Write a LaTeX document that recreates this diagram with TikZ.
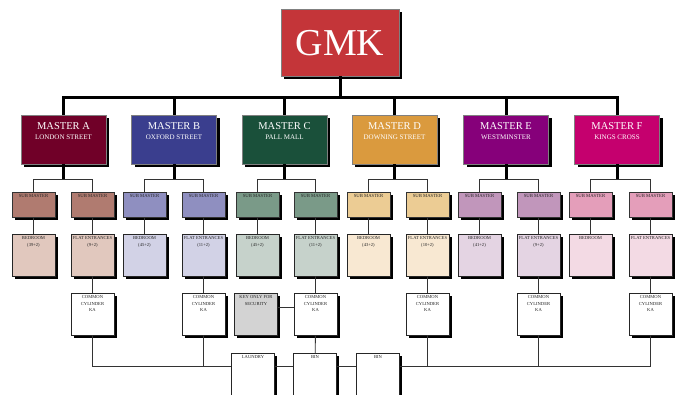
\documentclass[tikz,border=0pt]{standalone}
\usepackage{fontspec}
\setmainfont{Liberation Serif}
\usetikzlibrary{shadows}

\definecolor{gmkred}{RGB}{196,53,57}
\definecolor{mastA}{RGB}{112,0,40}
\definecolor{mastB}{RGB}{58,62,142}
\definecolor{mastC}{RGB}{26,80,58}
\definecolor{mastD}{RGB}{218,154,62}
\definecolor{mastE}{RGB}{134,0,122}
\definecolor{mastF}{RGB}{197,0,110}
\definecolor{subA}{RGB}{176,123,112}
\definecolor{subB}{RGB}{143,143,192}
\definecolor{subC}{RGB}{122,154,136}
\definecolor{subD}{RGB}{236,204,148}
\definecolor{subE}{RGB}{193,150,187}
\definecolor{subF}{RGB}{228,158,186}
\definecolor{bedA}{RGB}{225,200,190}
\definecolor{bedB}{RGB}{210,210,230}
\definecolor{bedC}{RGB}{198,210,203}
\definecolor{bedD}{RGB}{248,232,210}
\definecolor{bedE}{RGB}{228,212,227}
\definecolor{bedF}{RGB}{243,218,228}
\definecolor{keygray}{RGB}{211,211,211}

\newcommand{\boxtxt}[3]{\parbox[t][#2][t]{#1}{\centering #3}}

\tikzset{
  shadowed/.style={drop shadow={shadow xshift=3pt,shadow yshift=-3pt,fill=black,opacity=1}},
  smallshadow/.style={drop shadow={shadow xshift=2.5pt,shadow yshift=-2.5pt,fill=black,opacity=1}},
  master/.style={shadowed, draw=black!50, anchor=north, inner xsep=0pt, inner ysep=7.5pt, text=white, font=\fontsize{10.5}{9.5}\selectfont},
  submaster/.style={smallshadow, draw=black!80, anchor=north, inner xsep=0pt, inner ysep=2.3pt, text=black!85, font=\fontsize{4.7}{6}\selectfont},
  room/.style={smallshadow, draw=black!85, anchor=north, inner xsep=0pt, inner ysep=2.5pt, text=black!85, font=\fontsize{4.6}{6.4}\selectfont},
  trunk/.style={line width=3pt},
  link/.style={line width=0.9pt, black!80},
}

\begin{document}
\begin{tikzpicture}[x=1pt,y=-1pt]
\clip (0,0) rectangle (678,394);

% top box
\node[shadowed, draw=black!50, fill=gmkred, text=white, anchor=north, minimum width=118pt, minimum height=67pt, font=\fontsize{38}{40}\selectfont] (gmk) at (340,9) {GMK};

% masters
\node[master, fill=mastA] (mA) at (63.5,115) {\boxtxt{85pt}{34pt}{MASTER A\\{\fontsize{7}{8}\selectfont LONDON STREET}}};
\node[master, fill=mastB] (mB) at (174,115) {\boxtxt{85pt}{34pt}{MASTER B\\{\fontsize{7}{8}\selectfont OXFORD STREET}}};
\node[master, fill=mastC] (mC) at (284.5,115) {\boxtxt{85pt}{34pt}{MASTER C\\{\fontsize{7}{8}\selectfont PALL MALL}}};
\node[master, fill=mastD] (mD) at (394.5,115) {\boxtxt{85pt}{34pt}{MASTER D\\{\fontsize{7}{8}\selectfont DOWNING STREET}}};
\node[master, fill=mastE] (mE) at (506,115) {\boxtxt{85pt}{34pt}{MASTER E\\{\fontsize{7}{8}\selectfont WESTMINSTER}}};
\node[master, fill=mastF] (mF) at (617,115) {\boxtxt{85pt}{34pt}{MASTER F\\{\fontsize{7}{8}\selectfont KINGS CROSS}}};

% sub masters
\node[submaster, fill=subA] (sA1) at (33.5,192) {\boxtxt{43pt}{20.4pt}{SUB MASTER}};
\node[submaster, fill=subA] (sA2) at (92.5,192) {\boxtxt{43pt}{20.4pt}{SUB MASTER}};
\node[submaster, fill=subB] (sB1) at (144.5,192) {\boxtxt{43pt}{20.4pt}{SUB MASTER}};
\node[submaster, fill=subB] (sB2) at (203.5,192) {\boxtxt{43pt}{20.4pt}{SUB MASTER}};
\node[submaster, fill=subC] (sC1) at (257.5,192) {\boxtxt{43pt}{20.4pt}{SUB MASTER}};
\node[submaster, fill=subC] (sC2) at (315.5,192) {\boxtxt{43pt}{20.4pt}{SUB MASTER}};
\node[submaster, fill=subD] (sD1) at (368.5,192) {\boxtxt{43pt}{20.4pt}{SUB MASTER}};
\node[submaster, fill=subD] (sD2) at (427.5,192) {\boxtxt{43pt}{20.4pt}{SUB MASTER}};
\node[submaster, fill=subE] (sE1) at (479.5,192) {\boxtxt{43pt}{20.4pt}{SUB MASTER}};
\node[submaster, fill=subE] (sE2) at (538.5,192) {\boxtxt{43pt}{20.4pt}{SUB MASTER}};
\node[submaster, fill=subF] (sF1) at (590.5,192) {\boxtxt{43pt}{20.4pt}{SUB MASTER}};
\node[submaster, fill=subF] (sF2) at (650.5,192) {\boxtxt{43pt}{20.4pt}{SUB MASTER}};

% bedrooms and flat entrances
\node[room, fill=bedA] (bA) at (33.5,234) {\boxtxt{43pt}{37pt}{BEDROOM\\(39+2)}};
\node[room, fill=bedA] (fA) at (92.5,234) {\boxtxt{43pt}{37pt}{FLAT ENTRANCES\\(9+2)}};
\node[room, fill=bedB] (bB) at (144.5,234) {\boxtxt{43pt}{37pt}{BEDROOM\\(45+2)}};
\node[room, fill=bedB] (fB) at (203.5,234) {\boxtxt{43pt}{37pt}{FLAT ENTRANCES\\(11+2)}};
\node[room, fill=bedC] (bC) at (257.5,234) {\boxtxt{43pt}{37pt}{BEDROOM\\(45+2)}};
\node[room, fill=bedC] (fC) at (315.5,234) {\boxtxt{43pt}{37pt}{FLAT ENTRANCES\\(11+2)}};
\node[room, fill=bedD] (bD) at (368.5,234) {\boxtxt{43pt}{37pt}{BEDROOM\\(43+2)}};
\node[room, fill=bedD] (fD) at (427.5,234) {\boxtxt{43pt}{37pt}{FLAT ENTRANCES\\(10+2)}};
\node[room, fill=bedE] (bE) at (479.5,234) {\boxtxt{43pt}{37pt}{BEDROOM\\(41+2)}};
\node[room, fill=bedE] (fE) at (538.5,234) {\boxtxt{43pt}{37pt}{FLAT ENTRANCES\\(9+2)}};
\node[room, fill=bedF] (bF) at (590.5,234) {\boxtxt{43pt}{37pt}{BEDROOM}};
\node[room, fill=bedF] (fF) at (650.5,234) {\boxtxt{43pt}{37pt}{FLAT ENTRANCES}};

% cylinders
\node[room, fill=white] (cA) at (92.5,293) {\boxtxt{43pt}{37pt}{COMMON\\CYLINDER\\KA}};
\node[room, fill=white] (cB) at (203.5,293) {\boxtxt{43pt}{37pt}{COMMON\\CYLINDER\\KA}};
\node[room, fill=keygray] (key) at (256,293) {\boxtxt{43pt}{37pt}{KEY ONLY FOR\\SECURITY}};
\node[room, fill=white] (cC) at (315.5,293) {\boxtxt{43pt}{37pt}{COMMON\\CYLINDER\\KA}};
\node[room, fill=white] (cD) at (427.5,293) {\boxtxt{43pt}{37pt}{COMMON\\CYLINDER\\KA}};
\node[room, fill=white] (cE) at (538.5,293) {\boxtxt{43pt}{37pt}{COMMON\\CYLINDER\\KA}};
\node[room, fill=white] (cF) at (650.5,293) {\boxtxt{43pt}{37pt}{COMMON\\CYLINDER\\KA}};

% laundry and bins
\node[room, fill=white] (lau) at (253,353) {\boxtxt{43pt}{60pt}{LAUNDRY}};
\node[room, fill=white] (bin1) at (315,353) {\boxtxt{43pt}{60pt}{BIN}};
\node[room, fill=white] (bin2) at (378,353) {\boxtxt{43pt}{60pt}{BIN}};

\coordinate (bar) at (0,97);
\coordinate (subbar) at (0,179);
\coordinate (bottom) at (0,366);

% thick lines
\draw[trunk] (gmk.south) -- (gmk.south |- bar);
\draw[trunk] (mA.north) -- (mA.north |- bar) -- (mF.north |- bar) -- (mF.north);
\draw[trunk] (mB.north) -- (mB.north |- bar);
\draw[trunk] (mC.north) -- (mC.north |- bar);
\draw[trunk] (mD.north) -- (mD.north |- bar);
\draw[trunk] (mE.north) -- (mE.north |- bar);
\draw[trunk] (mA.south) -- (mA.south |- subbar);
\draw[trunk] (mB.south) -- (mB.south |- subbar);
\draw[trunk] (mC.south) -- (mC.south |- subbar);
\draw[trunk] (mD.south) -- (mD.south |- subbar);
\draw[trunk] (mE.south) -- (mE.south |- subbar);
\draw[trunk] (mF.south) -- (mF.south |- subbar);

% thin lines
\draw[link] (sA1.north) |- (sA2.north |- subbar) -- (sA2.north);
\draw[link] (sB1.north) |- (sB2.north |- subbar) -- (sB2.north);
\draw[link] (sC1.north) |- (sC2.north |- subbar) -- (sC2.north);
\draw[link] (sD1.north) |- (sD2.north |- subbar) -- (sD2.north);
\draw[link] (sE1.north) |- (sE2.north |- subbar) -- (sE2.north);
\draw[link] (sF1.north) |- (sF2.north |- subbar) -- (sF2.north);

\draw[link] (sA1) -- (bA); \draw[link] (sA2) -- (fA);
\draw[link] (sB1) -- (bB); \draw[link] (sB2) -- (fB);
\draw[link] (sC1) -- (bC); \draw[link] (sC2) -- (fC);
\draw[link] (sD1) -- (bD); \draw[link] (sD2) -- (fD);
\draw[link] (sE1) -- (bE); \draw[link] (sE2) -- (fE);
\draw[link] (sF1) -- (bF); \draw[link] (sF2) -- (fF);

\draw[link] (fA) -- (cA);
\draw[link] (fB) -- (cB);
\draw[link] (fC) -- (cC);
\draw[link] (fD) -- (cD);
\draw[link] (fE) -- (cE);
\draw[link] (fF) -- (cF);

\draw[link] ([yshift=7pt]key.east) -- ([yshift=7pt]cC.west);
\draw[link] (cC) -- (bin1);

\draw[link] (cA.south) |- (lau.west |- bottom);
\draw[link] (cB.south) -- (cB.south |- bottom);
\draw[link] (lau.east |- bottom) -- (bin1.west |- bottom);
\draw[link] (bin1.east |- bottom) -- (bin2.west |- bottom);
\draw[link] (bin2.east |- bottom) -| (cF.south);
\draw[link] (cD.south) -- (cD.south |- bottom);
\draw[link] (cE.south) -- (cE.south |- bottom);
\end{tikzpicture}
\end{document}
